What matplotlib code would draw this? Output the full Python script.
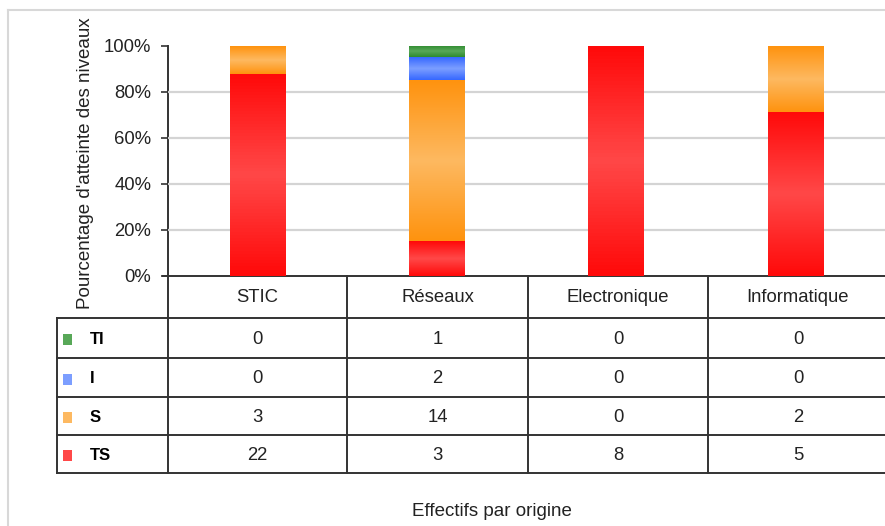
import matplotlib.pyplot as plt
import numpy as np
from matplotlib.colors import LinearSegmentedColormap
from matplotlib.patches import Rectangle

plt.rcParams['font.family'] = ['Liberation Sans', 'DejaVu Sans']

categories = ['STIC', 'Réseaux', 'Electronique', 'Informatique']
levels = ['TS', 'S', 'I', 'TI']          # stacking order, bottom to top
counts = {
    'TS': [22, 3, 8, 5],
    'S': [3, 14, 0, 2],
    'I': [0, 2, 0, 0],
    'TI': [0, 1, 0, 0],
}
table_rows = ['TI', 'I', 'S', 'TS']      # order in the data table
yticks = [0, 20, 40, 60, 80, 100]
ylabel = "Pourcentage d'atteinte des niveaux"
xlabel = 'Effectifs par origine'

# edge colour / centre colour of each gradient segment
colors = {
    'TS': ('#ff0a0a', '#ff4848'),
    'S': ('#ff930f', '#fdb961'),
    'I': ('#3668ff', '#7c9eff'),
    'TI': ('#2f8a2f', '#58a858'),
}

W, H = 885, 526
fig = plt.figure(figsize=(W / 100, H / 100), dpi=100)

# pixel layout helpers
def px_axes(x0, y0, x1, y1):
    return fig.add_axes([x0 / W, 1 - y1 / H, (x1 - x0) / W, (y1 - y0) / H])

ax = px_axes(168, 46, 885, 276)

totals = np.sum([counts[k] for k in levels], axis=0)
xpos = np.arange(len(categories))
bar_w = 0.31
bottom = np.zeros(len(categories))
for lev in levels:
    pct = np.array(counts[lev]) / totals * 100
    edge, centre = colors[lev]
    cmap = LinearSegmentedColormap.from_list(lev, [edge, centre, edge])
    grad = np.linspace(0, 1, 64).reshape(-1, 1)
    for i in range(len(categories)):
        if pct[i] <= 0:
            continue
        ax.imshow(grad, cmap=cmap, aspect='auto', origin='lower',
                  extent=(xpos[i] - bar_w / 2, xpos[i] + bar_w / 2,
                          bottom[i], bottom[i] + pct[i]), zorder=3)
    bottom += pct

ax.set_xlim(-0.5, len(categories) - 0.5)
ax.set_ylim(0, 100)
ax.set_yticks(yticks)
ax.set_yticklabels([f'{t}%' for t in yticks], fontsize=13.3, color='#222222')
ax.set_xticks([])
for t in yticks[1:-1]:
    ax.axhline(t, color='#d4d4d4', lw=1.6, zorder=1)
for s in ['top', 'right', 'left', 'bottom']:
    ax.spines[s].set_visible(False)
ax.tick_params(axis='y', length=5, width=1.2, color='#333333', pad=7)
ax.patch.set_alpha(0)

# overlay in pixel coordinates for the data table and frame
ov = fig.add_axes([0, 0, 1, 1], zorder=-1)
ov.set_xlim(0, W)
ov.set_ylim(H, 0)
ov.axis('off')

ov.plot([8, 8], [10, H], color='#d8d8d8', lw=1.5)
ov.plot([8, W], [10, 10], color='#d8d8d8', lw=1.5)

line_c = '#333333'
col_x = [168, 347, 528, 708, 888]
row_y = [276, 318, 358, 397, 435, 473]
ov.plot([168, 168], [46, row_y[-1]], color=line_c, lw=1.4)
ov.plot([163, W], [276, 276], color=line_c, lw=1.4)
for y in row_y[1:]:
    ov.plot([57, W], [y, y], color=line_c, lw=1.4)
ov.plot([57, 57], [row_y[1], row_y[-1]], color=line_c, lw=1.4)
for x in col_x[1:4]:
    ov.plot([x, x], [row_y[0], row_y[-1]], color=line_c, lw=1.4)

for i, cat in enumerate(categories):
    cx = (col_x[i] + col_x[i + 1]) / 2
    ov.text(cx, (row_y[0] + row_y[1]) / 2 + 1, cat, ha='center', va='center',
            fontsize=13.3, color='#222222')

for r, lev in enumerate(table_rows):
    cy = (row_y[r + 1] + row_y[r + 2]) / 2 + 1
    ov.add_patch(Rectangle((63, cy - 5), 9, 11, color=colors[lev][1], lw=0))
    ov.text(90, cy, lev, ha='left', va='center', fontsize=12,
            fontweight='bold', color='black')
    for i in range(len(categories)):
        cx = (col_x[i] + col_x[i + 1]) / 2
        ov.text(cx, cy, str(counts[lev][i]), ha='center', va='center',
                fontsize=13.3, color='#222222')

fig.text(86 / W, 1 - 163 / H, ylabel, rotation=90, ha='center', va='center',
         fontsize=13.5, color='#222222')
fig.text(492 / W, 1 - 511 / H, xlabel, ha='center', va='center',
         fontsize=13.5, color='#222222')

fig.savefig('out.png', dpi=100)
